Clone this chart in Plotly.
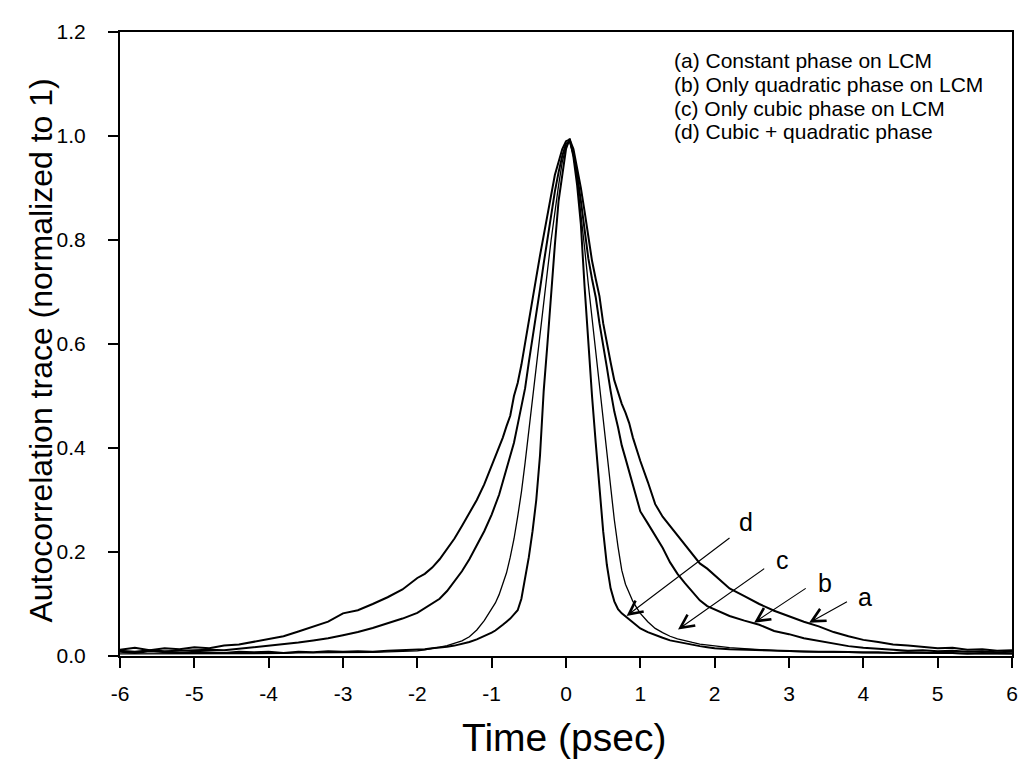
import plotly.graph_objects as go

# Time axis (psec)
T = [-6.0,-5.8,-5.6,-5.4,-5.2,-5.0,-4.8,-4.6,-4.4,-4.2,-4.0,-3.8,-3.6,-3.4,-3.2,-3.0,-2.8,-2.6,-2.4,-2.2,
     -2.0,-1.9,-1.8,-1.7,-1.6,-1.5,-1.4,-1.3,-1.2,-1.1,
     -1.0,-0.95,-0.9,-0.85,-0.8,-0.75,-0.7,-0.65,-0.6,-0.55,-0.5,-0.45,-0.4,-0.35,-0.3,-0.25,-0.2,-0.15,-0.1,-0.05,
     0.0,0.05,0.1,0.15,0.2,0.25,0.3,0.35,0.4,0.45,0.5,0.55,0.6,0.65,0.7,0.75,0.8,0.85,0.9,0.95,
     1.0,1.1,1.2,1.3,1.4,1.5,1.6,1.7,1.8,1.9,
     2.0,2.2,2.4,2.6,2.8,3.0,3.2,3.4,3.6,3.8,4.0,4.2,4.4,4.6,4.8,5.0,5.2,5.4,5.6,5.8,6.0]

# (a) Constant phase on LCM
A = [0.012,0.016,0.011,0.015,0.013,0.017,0.015,0.020,0.022,0.027,0.032,0.038,0.047,0.056,0.066,0.082,0.088,0.100,0.113,0.128,
     0.150,0.158,0.170,0.186,0.205,0.226,0.250,0.275,0.300,0.330,
     0.365,0.383,0.400,0.420,0.442,0.462,0.500,0.525,0.560,0.600,0.640,0.687,0.728,0.770,0.810,0.850,0.890,0.925,0.950,0.975,
     0.990,0.993,0.975,0.940,0.900,0.855,0.805,0.760,0.725,0.692,0.640,0.600,0.565,0.530,0.505,0.485,0.468,0.448,0.420,0.395,
     0.375,0.335,0.292,0.268,0.250,0.232,0.213,0.195,0.178,0.168,
     0.155,0.130,0.115,0.100,0.087,0.076,0.066,0.057,0.046,0.038,0.031,0.027,0.022,0.020,0.017,0.015,0.016,0.012,0.013,0.010,0.011]

# (b) Only quadratic phase on LCM
B = [0.010,0.008,0.011,0.009,0.010,0.011,0.012,0.011,0.014,0.016,0.019,0.022,0.026,0.030,0.034,0.040,0.046,0.054,0.063,0.072,
     0.083,0.092,0.100,0.110,0.125,0.145,0.163,0.186,0.212,0.240,
     0.272,0.290,0.310,0.335,0.360,0.385,0.410,0.445,0.480,0.515,0.565,0.610,0.660,0.705,0.755,0.800,0.850,0.893,0.930,0.962,
     0.985,0.990,0.965,0.925,0.875,0.815,0.765,0.725,0.690,0.640,0.600,0.555,0.510,0.470,0.440,0.405,0.380,0.355,0.325,0.300,
     0.278,0.255,0.232,0.208,0.180,0.158,0.140,0.123,0.107,0.096,
     0.090,0.077,0.068,0.060,0.048,0.042,0.034,0.029,0.024,0.019,0.016,0.014,0.012,0.010,0.011,0.009,0.010,0.008,0.009,0.007,0.008]

# (c) Only cubic phase on LCM
C = [0.004,0.004,0.004,0.004,0.004,0.005,0.005,0.005,0.005,0.005,0.005,0.005,0.006,0.006,0.006,0.006,0.007,0.007,0.008,0.009,
     0.010,0.012,0.014,0.017,0.020,0.024,0.029,0.037,0.050,0.068,
     0.090,0.102,0.118,0.137,0.160,0.190,0.225,0.268,0.315,0.372,0.435,0.490,0.550,0.615,0.685,0.740,0.800,0.855,0.905,0.950,
     0.980,0.990,0.965,0.915,0.855,0.785,0.715,0.650,0.590,0.530,0.460,0.395,0.325,0.262,0.210,0.165,0.138,0.120,0.105,0.093,
     0.082,0.066,0.053,0.045,0.038,0.033,0.029,0.026,0.023,0.021,
     0.019,0.016,0.014,0.012,0.010,0.009,0.008,0.008,0.007,0.007,0.006,0.006,0.006,0.005,0.005,0.005,0.005,0.004,0.004,0.004,0.004]

# (d) Cubic + quadratic phase
D = [0.008,0.006,0.009,0.007,0.006,0.008,0.007,0.006,0.008,0.007,0.008,0.006,0.008,0.007,0.009,0.008,0.009,0.008,0.010,0.011,
     0.012,0.013,0.015,0.016,0.018,0.020,0.023,0.027,0.032,0.038,
     0.045,0.049,0.054,0.060,0.066,0.072,0.080,0.088,0.110,0.150,0.190,0.240,0.300,0.385,0.510,0.600,0.705,0.790,0.875,0.930,
     0.975,0.995,0.960,0.905,0.830,0.710,0.600,0.500,0.410,0.320,0.240,0.175,0.130,0.105,0.090,0.082,0.076,0.070,0.064,0.058,
     0.053,0.046,0.040,0.035,0.030,0.027,0.024,0.021,0.019,0.017,
     0.015,0.013,0.012,0.011,0.010,0.009,0.009,0.008,0.008,0.007,0.007,0.007,0.006,0.007,0.006,0.006,0.006,0.005,0.006,0.005,0.005]

legend_lines = ["(a) Constant phase on LCM",
                "(b) Only quadratic phase on LCM",
                "(c) Only cubic phase on LCM",
                "(d) Cubic + quadratic phase"]

x_ticks = [-6, -5, -4, -3, -2, -1, 0, 1, 2, 3, 4, 5, 6]
x_ticktext = ["-6", "-5", "-4", "-3", "-2", "-1", "0", "1", "2", "3", "4", "5", "6"]
y_ticks = [0.0, 0.2, 0.4, 0.6, 0.8, 1.0, 1.2]
y_ticktext = ["0.0", "0.2", "0.4", "0.6", "0.8", "1.0", "1.2"]

# curve labels and arrow (head, tail) in data coordinates
label_names = ["d", "c", "b", "a"]
label_pos = [(2.42, 0.257), (2.91, 0.184), (3.49, 0.140), (4.02, 0.113)]
arrow_head = [(0.815, 0.077), (1.507, 0.051), (2.53, 0.064), (3.27, 0.064)]
arrow_tail = [(2.22, 0.229), (2.687, 0.170), (3.245, 0.132), (3.80, 0.106)]

fig = go.Figure()
for ys, w in [(A, 2.0), (B, 2.0), (C, 1.3), (D, 2.0)]:
    fig.add_trace(go.Scatter(x=T, y=ys, mode="lines",
                             line=dict(color="black", width=w), showlegend=False))

FONT = "Arial, Liberation Sans, Helvetica, sans-serif"
ann = []
for i, txt in enumerate(legend_lines):
    ann.append(dict(text=txt, xref="paper", yref="paper",
                    x=(676 - 120) / 898, y=(656 - (61 + 23.5 * i)) / 624,
                    xanchor="left", yanchor="middle", showarrow=False,
                    font=dict(family=FONT, size=21, color="black")))
for name, (lx, ly), (hx, hy), (tx, ty) in zip(label_names, label_pos, arrow_head, arrow_tail):
    ann.append(dict(text=name, x=lx, y=ly, xref="x", yref="y", showarrow=False,
                    font=dict(family=FONT, size=25, color="black")))
    ann.append(dict(text="", x=hx, y=hy, ax=tx, ay=ty, xref="x", yref="y",
                    axref="x", ayref="y", showarrow=True, arrowhead=5,
                    arrowsize=2.4, arrowwidth=1.1, arrowcolor="black"))
ann.append(dict(text="Time (psec)", xref="paper", yref="paper",
                x=(567 - 120) / 898, y=(656 - 737) / 624,
                xanchor="center", yanchor="middle", showarrow=False,
                font=dict(family=FONT, size=39, color="black")))
ann.append(dict(text="Autocorrelation trace (normalized to 1)", xref="paper", yref="paper",
                x=(40 - 120) / 898, y=(656 - 351) / 624, textangle=-90,
                xanchor="center", yanchor="middle", showarrow=False,
                font=dict(family=FONT, size=32, color="black")))

fig.update_layout(
    width=1028, height=767,
    margin=dict(l=120, r=10, t=32, b=111),
    plot_bgcolor="white", paper_bgcolor="white",
    annotations=ann,
    xaxis=dict(range=[-6, 6], tickvals=x_ticks, ticktext=x_ticktext, showgrid=False, zeroline=False,
               showline=True, linecolor="black", linewidth=2, mirror=True,
               ticks="outside", ticklen=10, tickwidth=1.5, tickcolor="black",
               ticklabelstandoff=8,
               tickfont=dict(family=FONT, size=21, color="black")),
    yaxis=dict(range=[0, 1.2], tickvals=y_ticks, ticktext=y_ticktext, showgrid=False, zeroline=False,
               showline=True, linecolor="black", linewidth=2, mirror=True,
               ticks="outside", ticklen=10, tickwidth=1.5, tickcolor="black",
               ticklabelstandoff=18,
               tickfont=dict(family=FONT, size=21, color="black")),
)
fig.write_html("out.html")
